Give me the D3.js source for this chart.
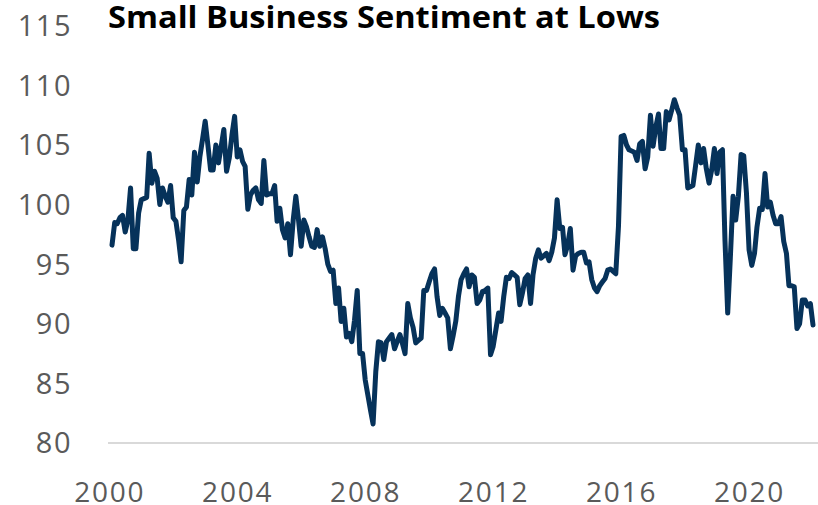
<!DOCTYPE html>
<html>
<head>
<meta charset="utf-8">
<script src="https://cdn.jsdelivr.net/npm/d3@7"></script>
<style>
  body { margin: 0; background: #fff; }
  svg { display: block; }
</style>
</head>
<body>
<svg></svg>
<script>

// monthly index readings, Jan..Dec of each year
var y2001 = [96.6, 98.5, 98.4, 98.9, 99.1, 97.7, 98.7, 101.4, 96.3, 96.3, 99.3, 100.4];
var y2002 = [100.5, 100.6, 104.3, 101.8, 102.8, 102.2, 100.0, 101.4, 100.7, 100.2, 101.6, 98.9];
var y2003 = [98.6, 97.0, 95.2, 99.5, 99.8, 102.1, 100.8, 104.4, 101.9, 104.0, 105.5, 107.0];
var y2004 = [105.0, 102.9, 102.9, 105.0, 103.5, 104.9, 106.3, 102.8, 103.9, 105.8, 107.4, 104.0];
var y2005 = [104.6, 103.6, 103.2, 99.6, 100.8, 101.2, 101.4, 100.4, 100.1, 103.7, 100.8, 100.9];
var y2006 = [100.9, 101.6, 98.6, 99.7, 97.9, 97.2, 98.4, 95.8, 98.7, 100.7, 98.7, 96.5];
var y2007 = [98.7, 98.1, 97.3, 96.5, 96.4, 97.9, 96.5, 97.3, 96.3, 95.0, 94.4, 94.5];
var y2008 = [91.7, 93.0, 90.2, 91.3, 88.9, 89.2, 88.5, 90.3, 92.8, 87.5, 87.5, 85.3];
var y2009 = [84.0, 82.7, 81.6, 86.0, 88.5, 88.4, 87.0, 88.5, 88.8, 89.1, 87.9, 88.5];
var y2010 = [89.1, 88.3, 87.5, 91.7, 90.5, 89.7, 88.4, 88.6, 88.8, 92.8, 92.8, 93.5];
var y2011 = [94.2, 94.6, 92.3, 90.7, 91.3, 90.9, 90.5, 87.9, 89.0, 90.2, 92.3, 93.7];
var y2012 = [94.2, 94.6, 93.1, 94.1, 93.9, 91.7, 92.0, 92.7, 92.8, 93.0, 87.4, 88.1];
var y2013 = [89.5, 90.9, 90.2, 92.3, 93.9, 93.8, 94.3, 94.1, 93.9, 91.6, 92.6, 93.8];
var y2014 = [94.1, 91.7, 94.1, 95.5, 96.2, 95.5, 95.7, 95.9, 95.3, 96.0, 97.2, 100.4];
var y2015 = [98.0, 98.1, 95.8, 96.6, 98.0, 94.5, 95.7, 95.9, 96.0, 96.0, 95.1, 95.2];
var y2016 = [93.7, 93.0, 92.7, 93.2, 93.5, 93.8, 94.5, 94.6, 94.4, 94.2, 98.2, 105.7];
var y2017 = [105.8, 105.0, 104.6, 104.5, 104.4, 103.7, 105.1, 105.3, 103.0, 104.0, 107.5, 104.9];
var y2018 = [106.5, 107.6, 104.7, 104.7, 107.8, 107.1, 107.9, 108.8, 108.1, 107.5, 104.6, 104.6];
var y2019 = [101.4, 101.5, 101.6, 103.3, 105.0, 103.5, 104.7, 103.0, 101.8, 102.9, 104.7, 102.6];
var y2020 = [104.4, 104.6, 97.0, 90.9, 95.5, 100.7, 98.7, 100.7, 104.2, 104.1, 101.0, 96.2];
var y2021 = [94.9, 95.9, 98.1, 99.7, 99.6, 102.6, 99.8, 100.2, 99.1, 98.4, 98.4, 99.0];
var y2022 = [96.9, 95.9, 93.2, 93.2, 93.1, 89.6, 90.0, 92.0, 92.0, 91.5, 91.7, 89.9];

var firstYear = 2001;
var yearTicks = [2000, 2004, 2008, 2012, 2016, 2020];
var valueTicks = [80, 85, 90, 95, 100, 105, 110, 115];
var title = "Small Business Sentiment at Lows";

var years = [y2001, y2002, y2003, y2004, y2005, y2006, y2007, y2008, y2009, y2010, y2011,
             y2012, y2013, y2014, y2015, y2016, y2017, y2018, y2019, y2020, y2021, y2022];

function processData(list){
  var out = [];
  list.forEach(function(vals, i){
    vals.forEach(function(v, m){
      out.push({date: new Date(firstYear + i, m, 1), value: v});
    });
  });
  return out;
}

function startChart(data){
  var width = 818;
  var height = 505;

  var svg = d3.select("svg")
              .attr("width", width)
              .attr("height", height);

  var xScale = d3.scaleTime()
                 .domain([data[0].date, data[data.length - 1].date])
                 .range([112, 813]);
  var yScale = d3.scaleLinear()
                 .domain([80, 115])
                 .range([443, 25.8]);

  // baseline at 80
  svg.append("line")
     .attr("x1", 108)
     .attr("x2", width)
     .attr("y1", yScale(80))
     .attr("y2", yScale(80))
     .attr("stroke", "#d9d9d9")
     .attr("stroke-width", 2);

  var yAxis = d3.axisLeft()
                .scale(yScale)
                .tickValues(valueTicks)
                .tickSize(0)
                .tickPadding(0);
  var gy = svg.append("g")
              .attr("transform", "translate(72,0)")
              .call(yAxis);
  gy.select(".domain").remove();
  gy.selectAll("text")
    .attr("font-family", "'Open Sans', sans-serif")
    .attr("font-size", 29)
    .attr("letter-spacing", 1.5)
    .attr("fill", "#5a5a5a")
    .attr("dy", "0.34em");

  var xAxis = d3.axisBottom()
                .scale(xScale)
                .tickValues(yearTicks.map(function(y){ return new Date(y, 11, 1); }))
                .tickFormat(function(d){ return d.getFullYear(); })
                .tickSize(0)
                .tickPadding(39);
  var gx = svg.append("g")
              .attr("transform", "translate(0," + yScale(80) + ")")
              .call(xAxis);
  gx.select(".domain").remove();
  gx.selectAll("text")
    .attr("font-family", "'Open Sans', sans-serif")
    .attr("font-size", 28)
    .attr("letter-spacing", 1.8)
    .attr("fill", "#5a5a5a");

  var line = d3.line()
               .x(function(d){ return xScale(d.date); })
               .y(function(d){ return yScale(d.value); });

  svg.append("path")
     .datum(data)
     .attr("d", line)
     .attr("fill", "none")
     .attr("stroke", "#06325a")
     .attr("stroke-width", 5)
     .attr("stroke-linejoin", "round")
     .attr("stroke-linecap", "round");

  svg.append("text")
     .text(title)
     .attr("x", 108)
     .attr("y", 28)
     .attr("font-family", "'Open Sans', sans-serif")
     .attr("font-weight", 700)
     .attr("font-size", 31)
     .attr("textLength", 552)
     .attr("lengthAdjust", "spacingAndGlyphs")
     .attr("fill", "#000");
}

startChart(processData(years));
</script>
</body>
</html>
